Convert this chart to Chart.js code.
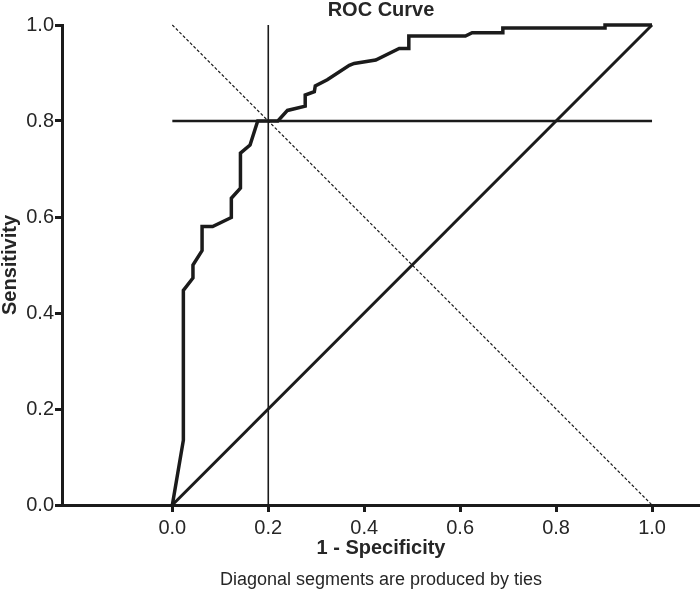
<!DOCTYPE html>
<html>
<head>
<meta charset="utf-8">
<script src="https://cdn.jsdelivr.net/npm/chart.js@4.4.0/dist/chart.umd.min.js"></script>
<style>
  html, body { margin: 0; padding: 0; background: #fff; }
</style>
</head>
<body>
<canvas id="rocChart" width="700" height="589"></canvas>
<script>
// ROC curve: 1 - specificity vs sensitivity
const fpr = [0, 0.023, 0.023, 0.043, 0.043, 0.062, 0.062, 0.084, 0.123, 0.123, 0.142, 0.142, 0.162, 0.178,
  0.220, 0.240, 0.277, 0.277, 0.296, 0.298, 0.323, 0.369, 0.379, 0.424, 0.473, 0.493, 0.493, 0.611,
  0.625, 0.689, 0.689, 0.902, 0.902, 1.0];
const sensitivity = [0, 0.135, 0.447, 0.473, 0.500, 0.530, 0.580, 0.580, 0.599, 0.639, 0.660, 0.733, 0.750, 0.800,
  0.800, 0.822, 0.831, 0.854, 0.861, 0.873, 0.886, 0.916, 0.920, 0.927, 0.951, 0.951, 0.977, 0.977,
  0.984, 0.984, 0.994, 0.994, 1.0, 1.0];

// reference lines
const chanceX = [0, 1];
const chanceY = [0, 1];
const antiX = [0, 1];
const antiY = [1, 0];
const cutoffX = 0.2;   // vertical line
const cutoffY = 0.8;   // horizontal line

// axes
const xMin = -0.23;
const xMax = 1.1;
const xTicks = [0, 0.2, 0.4, 0.6, 0.8, 1.0];
const yTicks = [0, 0.2, 0.4, 0.6, 0.8, 1.0];

const ink = '#1b1b1b';
const textColor = '#262626';
const family = "'Liberation Sans', Arial, Helvetica, sans-serif";

const toPoints = (xs, ys) => xs.map((x, i) => ({ x: x, y: ys[i] }));

const ctx = document.getElementById('rocChart').getContext('2d');
new Chart(ctx, {
  type: 'scatter',
  data: {
    datasets: [
      {
        label: 'ROC',
        data: toPoints(fpr, sensitivity),
        showLine: true, borderColor: ink, borderWidth: 3.5, pointRadius: 0, clip: 6
      },
      {
        label: 'chance',
        data: toPoints(chanceX, chanceY),
        showLine: true, borderColor: ink, borderWidth: 3, pointRadius: 0, clip: 6
      },
      {
        label: 'anti',
        data: toPoints(antiX, antiY),
        showLine: true, borderColor: ink, borderWidth: 1.2, borderDash: [3, 2], pointRadius: 0, clip: 6
      },
      {
        label: 'sens cutoff',
        data: toPoints([0, 1], [cutoffY, cutoffY]),
        showLine: true, borderColor: ink, borderWidth: 2.5, pointRadius: 0, clip: 6
      },
      {
        label: 'spec cutoff',
        data: toPoints([cutoffX, cutoffX], [0, 1]),
        showLine: true, borderColor: ink, borderWidth: 1.6, pointRadius: 0, clip: 6
      }
    ]
  },
  options: {
    responsive: false,
    animation: false,
    devicePixelRatio: 1,
    layout: { padding: 0 },
    plugins: {
      legend: { display: false },
      tooltip: { enabled: false },
      title: {
        display: true,
        text: 'ROC Curve',
        fullSize: false,
        color: textColor,
        font: { family: family, size: 20, weight: 'bold', lineHeight: 1 },
        padding: { top: 0, bottom: 5 }
      },
      subtitle: {
        display: true,
        position: 'bottom',
        text: 'Diagonal segments are produced by ties',
        fullSize: false,
        color: textColor,
        font: { family: family, size: 18, lineHeight: 1 },
        padding: { top: 0, bottom: 0 }
      }
    },
    scales: {
      x: {
        type: 'linear',
        min: xMin,
        max: xMax,
        afterBuildTicks: (s) => { s.ticks = xTicks.map(v => ({ value: v })); },
        afterFit: (s) => { s.height = 66; },
        border: { display: true, color: ink, width: 3 },
        grid: { drawOnChartArea: false, drawTicks: true, tickLength: 7, lineWidth: 3, color: ink },
        ticks: {
          padding: 4,
          color: textColor,
          font: { family: family, size: 20 },
          callback: (v) => Number(v).toFixed(1)
        },
        title: {
          display: true,
          text: '1 - Specificity',
          color: textColor,
          font: { family: family, size: 20, weight: 'bold', lineHeight: 1 },
          padding: { top: 0, bottom: 13 }
        }
      },
      y: {
        type: 'linear',
        min: 0,
        max: 1,
        afterBuildTicks: (s) => { s.ticks = yTicks.map(v => ({ value: v })); },
        afterFit: (s) => { s.width = 62; },
        border: { display: true, color: ink, width: 3 },
        grid: { drawOnChartArea: false, drawTicks: true, tickLength: 7, lineWidth: 3, color: ink },
        ticks: {
          padding: 1,
          color: textColor,
          font: { family: family, size: 20 },
          callback: (v) => Number(v).toFixed(1)
        },
        title: {
          display: true,
          text: 'Sensitivity',
          color: textColor,
          font: { family: family, size: 20, weight: 'bold', lineHeight: 1 },
          padding: { top: 0, bottom: 0 }
        }
      }
    }
  }
});
</script>
</body>
</html>
